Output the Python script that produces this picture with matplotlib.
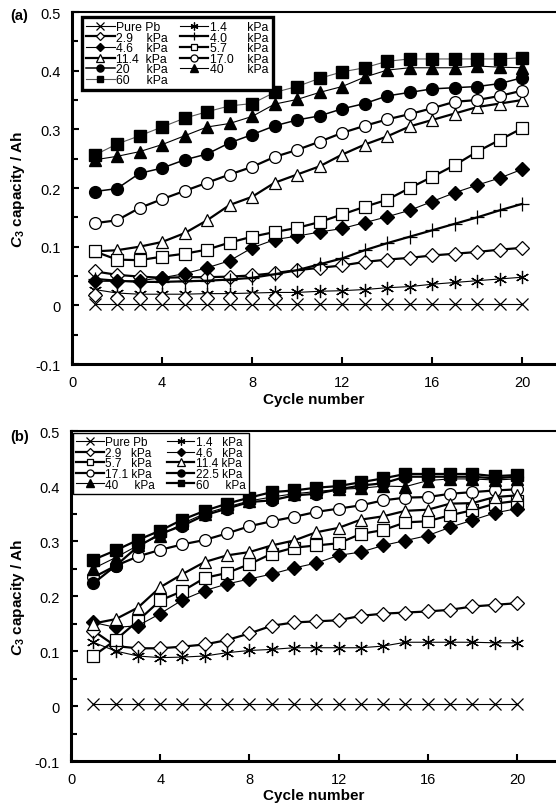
import numpy as np
import matplotlib
matplotlib.use("Agg")
import matplotlib.pyplot as plt
from matplotlib.ticker import MultipleLocator, FuncFormatter

plt.rcParams['font.family'] = ['Liberation Sans', 'DejaVu Sans']
plt.rcParams['mathtext.fontset'] = 'custom'
plt.rcParams['mathtext.rm'] = 'Liberation Sans'
plt.rcParams['mathtext.bf'] = 'Liberation Sans:bold'
try:
    plt.rcParams['mathtext.bfit'] = 'Liberation Sans:bold:italic'
    YLABEL = r'$\mathbfit{C}_{\mathbf{3}}$ capacity / Ah'
except KeyError:
    plt.rcParams['mathtext.it'] = 'Liberation Sans:bold:italic'
    YLABEL = r'$\mathit{C}_{\mathbf{3}}$ capacity / Ah'

# cycle numbers
cycles = [1, 2, 3, 4, 5, 6, 7, 8, 9, 10, 11, 12, 13, 14, 15, 16, 17, 18, 19, 20]

# ---- panel (a) data ----
a_pure = [0.003, 0.003, 0.003, 0.003, 0.003, 0.003, 0.003, 0.003, 0.003, 0.003,
          0.003, 0.003, 0.003, 0.003, 0.003, 0.003, 0.003, 0.003, 0.003, 0.003]
a_1_4 = [0.027, 0.021, 0.019, 0.019, 0.019, 0.020, 0.020, 0.021, 0.022, 0.022,
         0.024, 0.025, 0.027, 0.030, 0.032, 0.036, 0.039, 0.042, 0.045, 0.048]
a_2_9 = [0.058, 0.052, 0.049, 0.047, 0.048, 0.048, 0.049, 0.051, 0.055, 0.060,
         0.064, 0.068, 0.074, 0.078, 0.081, 0.085, 0.088, 0.091, 0.095, 0.098]
a_2_9_low_cycles = [1, 2, 3, 4, 5, 6, 7, 8, 9]
a_2_9_low = [0.018, 0.013, 0.013, 0.013, 0.013, 0.013, 0.013, 0.013, 0.013]
a_4_0 = [0.045, 0.042, 0.040, 0.040, 0.041, 0.042, 0.044, 0.047, 0.053, 0.060,
         0.070, 0.080, 0.094, 0.106, 0.117, 0.128, 0.139, 0.150, 0.162, 0.173]
a_4_6 = [0.041, 0.041, 0.042, 0.047, 0.054, 0.064, 0.076, 0.098, 0.112, 0.118,
         0.125, 0.131, 0.141, 0.151, 0.162, 0.177, 0.192, 0.205, 0.217, 0.232]
a_5_7 = [0.092, 0.078, 0.077, 0.083, 0.088, 0.095, 0.107, 0.117, 0.125, 0.132,
         0.142, 0.155, 0.168, 0.180, 0.200, 0.219, 0.239, 0.262, 0.282, 0.302]
a_11_4 = [0.092, 0.094, 0.100, 0.108, 0.123, 0.145, 0.171, 0.185, 0.209, 0.223,
          0.237, 0.257, 0.274, 0.288, 0.305, 0.316, 0.327, 0.338, 0.344, 0.350]
a_17_0 = [0.140, 0.145, 0.166, 0.181, 0.195, 0.209, 0.223, 0.236, 0.253, 0.265,
          0.279, 0.294, 0.306, 0.317, 0.326, 0.336, 0.347, 0.350, 0.357, 0.366]
a_20 = [0.194, 0.199, 0.225, 0.234, 0.248, 0.258, 0.277, 0.291, 0.306, 0.316,
        0.323, 0.335, 0.344, 0.357, 0.363, 0.369, 0.371, 0.373, 0.378, 0.388]
a_40 = [0.248, 0.254, 0.262, 0.274, 0.289, 0.304, 0.310, 0.322, 0.343, 0.351,
        0.363, 0.373, 0.389, 0.401, 0.405, 0.405, 0.405, 0.408, 0.406, 0.405]
a_60 = [0.256, 0.275, 0.289, 0.304, 0.319, 0.330, 0.340, 0.344, 0.363, 0.373,
        0.387, 0.398, 0.405, 0.416, 0.420, 0.420, 0.420, 0.420, 0.420, 0.422]

# ---- panel (b) data ----
b_pure = [0.003, 0.003, 0.003, 0.003, 0.003, 0.003, 0.003, 0.003, 0.003, 0.003,
          0.003, 0.003, 0.003, 0.003, 0.003, 0.003, 0.003, 0.003, 0.003, 0.003]
b_1_4 = [0.116, 0.100, 0.091, 0.088, 0.089, 0.091, 0.097, 0.101, 0.103, 0.106,
         0.106, 0.106, 0.106, 0.109, 0.116, 0.116, 0.116, 0.116, 0.115, 0.115]
b_2_9 = [0.137, 0.109, 0.105, 0.105, 0.108, 0.112, 0.120, 0.132, 0.146, 0.152,
         0.154, 0.156, 0.164, 0.168, 0.170, 0.172, 0.175, 0.181, 0.184, 0.187]
b_4_6 = [0.152, 0.143, 0.146, 0.168, 0.193, 0.210, 0.222, 0.231, 0.240, 0.251,
         0.260, 0.274, 0.280, 0.292, 0.301, 0.310, 0.325, 0.338, 0.351, 0.359]
b_5_7 = [0.091, 0.120, 0.155, 0.192, 0.209, 0.233, 0.242, 0.258, 0.277, 0.288,
         0.292, 0.296, 0.313, 0.320, 0.334, 0.336, 0.347, 0.356, 0.368, 0.373]
b_11_4 = [0.150, 0.158, 0.179, 0.216, 0.240, 0.262, 0.274, 0.280, 0.292, 0.301,
          0.316, 0.324, 0.339, 0.345, 0.355, 0.357, 0.368, 0.369, 0.380, 0.383]
b_17_1 = [0.234, 0.255, 0.272, 0.284, 0.294, 0.302, 0.314, 0.327, 0.336, 0.344,
          0.353, 0.359, 0.365, 0.374, 0.379, 0.380, 0.386, 0.389, 0.392, 0.394]
b_22_5 = [0.223, 0.255, 0.290, 0.313, 0.328, 0.347, 0.359, 0.371, 0.374, 0.383,
          0.386, 0.394, 0.401, 0.405, 0.417, 0.417, 0.417, 0.417, 0.414, 0.417]
b_40 = [0.250, 0.270, 0.292, 0.310, 0.332, 0.350, 0.362, 0.373, 0.380, 0.386,
        0.390, 0.394, 0.396, 0.400, 0.399, 0.410, 0.413, 0.413, 0.411, 0.413]
b_60 = [0.266, 0.283, 0.302, 0.319, 0.339, 0.355, 0.368, 0.379, 0.389, 0.392,
        0.397, 0.400, 0.407, 0.414, 0.422, 0.422, 0.422, 0.422, 0.418, 0.420]

x_ticks = [0, 4, 8, 12, 16, 20]

# marker / line styles
THIN = 0.8
THICK = 1.6
st_x = dict(marker='x', ms=8.5, mew=0.9, color='k', lw=THIN)
st_star = dict(marker=(6, 2, 0), ms=9.5, mew=0.9, color='k', lw=THIN)
st_odia = dict(marker='D', ms=7, mfc='white', mec='k', mew=0.9, color='k', lw=THICK)
st_plus = dict(marker='+', ms=10.5, mew=0.9, color='k', lw=THICK)
st_fdia = dict(marker='D', ms=7, mfc='k', mec='k', color='k', lw=THIN)
st_osq = dict(marker='s', ms=8, mfc='white', mec='k', mew=0.9, color='k', lw=THICK)
st_otri = dict(marker='^', ms=8.5, mfc='white', mec='k', mew=0.9, color='k', lw=THICK)
st_ocir = dict(marker='o', ms=8.5, mfc='white', mec='k', mew=0.9, color='k', lw=THICK)
st_fcir = dict(marker='o', ms=8.5, mfc='k', mec='k', color='k', lw=1.1)
st_ftri = dict(marker='^', ms=8.5, mfc='k', mec='k', color='k', lw=THIN)
st_fsq = dict(marker='s', ms=8, mfc='k', mec='k', color='k', lw=THIN)

series_a = [
    (a_pure, 'Pure Pb', st_x),
    (a_2_9, '2.9    kPa', st_odia),
    (a_4_6, '4.6    kPa', st_fdia),
    (a_11_4, '11.4  kPa', st_otri),
    (a_20, '20     kPa', st_fcir),
    (a_60, '60     kPa', dict(st_fsq, color='0.35')),
    (a_1_4, '1.4      kPa', st_star),
    (a_4_0, '4.0      kPa', st_plus),
    (a_5_7, '5.7      kPa', st_osq),
    (a_17_0, '17.0    kPa', st_ocir),
    (a_40, '40       kPa', st_ftri),
]

series_b = [
    (b_pure, 'Pure Pb', st_x),
    (b_2_9, '2.9   kPa', st_odia),
    (b_5_7, '5.7   kPa', st_osq),
    (b_17_1, '17.1 kPa', st_ocir),
    (b_40, '40     kPa', st_ftri),
    (b_1_4, '1.4   kPa', st_star),
    (b_4_6, '4.6   kPa', st_fdia),
    (b_11_4, '11.4 kPa', st_otri),
    (b_22_5, '22.5 kPa', dict(st_fcir, lw=THICK)),
    (b_60, '60     kPa', dict(st_fsq, lw=THICK)),
]


def style_axes(ax, xmax):
    ax.set_xlim(0, xmax)
    ax.set_ylim(-0.1, 0.5)
    ax.set_xticks(x_ticks)
    ax.yaxis.set_major_locator(MultipleLocator(0.1))
    ax.yaxis.set_minor_locator(MultipleLocator(0.05))
    ax.yaxis.set_major_formatter(FuncFormatter(lambda v, p: '%g' % round(v, 2)))
    ax.tick_params(axis='both', which='both', direction='in', labelsize=10.5,
                   width=1.5, top=False, right=False)
    ax.tick_params(axis='x', which='major', length=5, pad=8)
    ax.tick_params(axis='y', which='major', length=5, pad=8)
    ax.tick_params(axis='y', which='minor', length=4)
    ax.spines['right'].set_visible(False)
    ax.spines['left'].set_linewidth(2.2)
    ax.spines['bottom'].set_linewidth(2.2)
    ax.spines['top'].set_linewidth(1.5)
    ax.set_ylabel(YLABEL, fontsize=11, fontweight='bold')
    ax.set_xlabel('Cycle number', fontsize=11, fontweight='bold')
    ax.yaxis.set_label_coords(-0.093, 0.5)


fig = plt.figure(figsize=(5.56, 8.04), dpi=100)

# panel (a)
ax1 = fig.add_axes([0.1295, 0.546, 0.8705, 0.4378])
for vals, label, st in series_a:
    ax1.plot(cycles, vals, label=label, **st)
ax1.plot(a_2_9_low_cycles, a_2_9_low, ls='none', **{k: v for k, v in st_odia.items() if k != 'lw'})
style_axes(ax1, 21.5)
ax1.xaxis.set_label_coords(0.5, -0.08)
leg1 = ax1.legend(loc='upper left', bbox_to_anchor=(0.021, 0.986), borderaxespad=0,
                  ncol=2, fontsize=8.8, frameon=True, fancybox=False, framealpha=1,
                  edgecolor='k', markerscale=0.6, handlelength=2.3, handletextpad=0.15,
                  labelspacing=-0.12, columnspacing=1.0, borderpad=0.35)
leg1.get_frame().set_linewidth(2.4)

# panel (b)
ax2 = fig.add_axes([0.1277, 0.0522, 0.8723, 0.4104])
for vals, label, st in series_b:
    ax2.plot(cycles, vals, label=label, **st)
style_axes(ax2, 21.75)
ax2.yaxis.set_label_coords(-0.091, 0.5)
ax2.xaxis.set_label_coords(0.5, -0.082)
leg2 = ax2.legend(loc='upper left', bbox_to_anchor=(0.004, 0.995), borderaxespad=0,
                  ncol=2, fontsize=8.5, frameon=True, fancybox=False, framealpha=1,
                  edgecolor='k', markerscale=0.6, handlelength=2.3, handletextpad=0.15,
                  labelspacing=-0.12, columnspacing=1.0, borderpad=0.3)
leg2.get_frame().set_linewidth(1.0)

fig.text(0.018, 1 - 16 / 804, '(a)', fontsize=10.5, fontweight='bold', va='center')
fig.text(0.018, 1 - 437 / 804, '(b)', fontsize=10.5, fontweight='bold', va='center')

fig.savefig('out.png', dpi=100)
